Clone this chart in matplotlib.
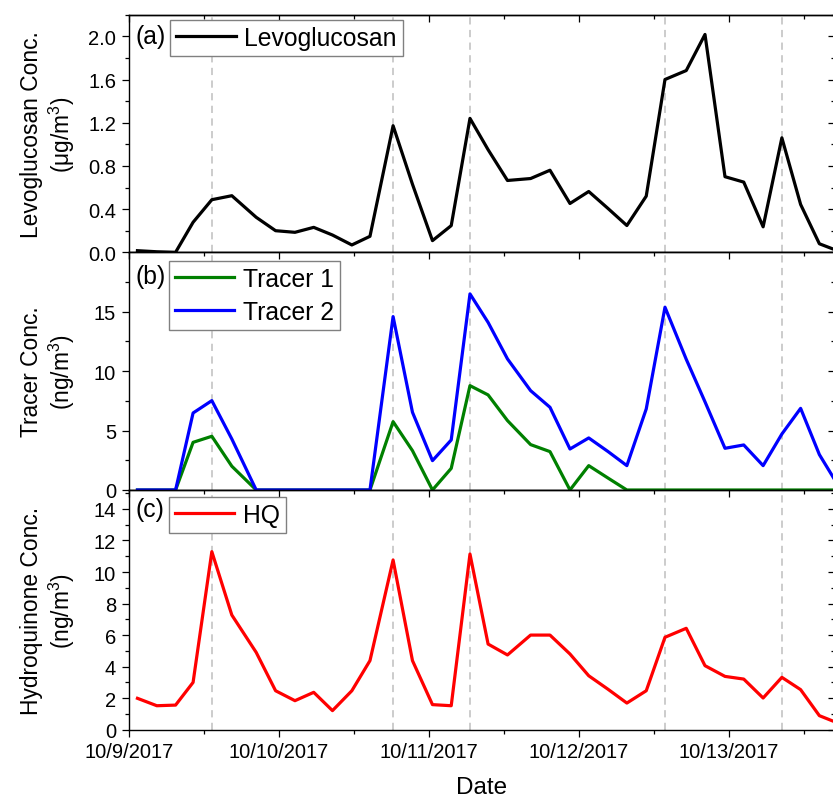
import numpy as np
import pandas as pd
import matplotlib
matplotlib.use("Agg")
import matplotlib.pyplot as plt
import matplotlib.dates as mdates
from matplotlib.ticker import MultipleLocator, FixedLocator, FormatStrFormatter, FuncFormatter

plt.rcParams['font.family'] = ['Liberation Sans', 'DejaVu Sans']
plt.rcParams['mathtext.default'] = 'regular'

# ---------------- data ----------------
start_date = "2017-10-09 00:00"
sample_hours = [1.4, 4.5, 7.5, 10.3, 13.3, 16.5, 20.4, 23.5, 26.6, 29.6, 32.6, 35.7,
                38.6, 42.3, 45.4, 48.6, 51.6, 54.6, 57.5, 60.6, 64.3, 67.4, 70.6, 73.6,
                76.7, 79.7, 82.8, 85.8, 89.2, 92.2, 95.4, 98.4, 101.5, 104.5, 107.5,
                110.5, 113.6]

levoglucosan = [0.015, 0.005, 0.0, 0.278, 0.487, 0.524, 0.324, 0.20, 0.185, 0.231, 0.160, 0.068,
                0.148, 1.172, 0.63, 0.108, 0.247, 1.24, 0.95, 0.665, 0.683, 0.76, 0.452, 0.563,
                0.405, 0.248, 0.52, 1.60, 1.683, 2.017, 0.70, 0.65, 0.236, 1.06, 0.443,
                0.079, 0.01]

tracer1 = [0, 0, 0, 4.01, 4.52, 2.0, 0, 0, 0, 0, 0, 0,
           0, 5.75, 3.31, 0, 1.82, 8.78, 8.0, 5.84, 3.82, 3.23, 0, 2.05,
           1.0, 0, 0, 0, 0, 0, 0, 0, 0, 0, 0,
           0, 0]

tracer2 = [0, 0, 0, 6.48, 7.52, 4.29, 0, 0, 0, 0, 0, 0,
           0, 14.59, 6.54, 2.47, 4.21, 16.5, 14.1, 11.03, 8.36, 6.96, 3.45, 4.38,
           3.23, 2.05, 6.82, 15.38, 11.0, 7.42, 3.51, 3.79, 2.05, 4.71, 6.87,
           2.98, 0.3]

hq = [1.99, 1.52, 1.56, 3.0, 11.29, 7.27, 4.9, 2.47, 1.84, 2.37, 1.21, 2.47,
      4.38, 10.76, 4.38, 1.59, 1.52, 11.14, 5.43, 4.74, 6.0, 6.0, 4.8, 3.42,
      2.56, 1.69, 2.47, 5.86, 6.43, 4.06, 3.38, 3.21, 2.01, 3.32, 2.54,
      0.89, 0.4]

event_hours = [13.3, 42.3, 54.6, 85.8, 104.5]

panel_tags = ["(a)", "(b)", "(c)"]
ylabels = ["Levoglucosan Conc.\n(μg/m$^{3}$)", "Tracer Conc.\n(ng/m$^{3}$)",
           "Hydroquinone Conc.\n(ng/m$^{3}$)"]
xlabel = "Date"
x_end_hours = 113.0

# ---------------- figure ----------------
t0 = pd.Timestamp(start_date)
times = [t0 + pd.Timedelta(hours=h) for h in sample_hours]
events = [t0 + pd.Timedelta(hours=h) for h in event_hours]
xmin = t0
xmax = t0 + pd.Timedelta(hours=x_end_hours)

W, H = 833, 803
fig = plt.figure(figsize=(W / 100, H / 100), dpi=100)

left_px, right_px = 128.7, 835.0
panels_px = [(15.7, 253.3), (253.3, 491.0), (491.0, 730.7)]
axes = []
for top, bot in panels_px:
    ax = fig.add_axes([left_px / W, 1 - bot / H, (right_px - left_px) / W, (bot - top) / H])
    axes.append(ax)

tick_fs = 14.5
label_fs = 16.4
leg_fs = 17.8
lw_data = 2.3

date_fmt = FuncFormatter(lambda v, pos: "{}/{}/{}".format(mdates.num2date(v).month,
                                                          mdates.num2date(v).day,
                                                          mdates.num2date(v).year))

for i, ax in enumerate(axes):
    ax.set_xlim(xmin, xmax)
    for e in events:
        ax.axvline(e, color='#c8c8c8', lw=1.3, ls=(0, (4.0, 3)), zorder=1)
    for sp in ax.spines.values():
        sp.set_linewidth(1.0)
    ax.xaxis.set_major_locator(mdates.DayLocator())
    ax.xaxis.set_minor_locator(mdates.HourLocator(byhour=12))
    ax.tick_params(axis='both', which='major', direction='out', length=5, width=0.9,
                   labelsize=tick_fs, pad=4)
    ax.tick_params(axis='both', which='minor', direction='out', length=3, width=0.9)
    if i < 2:
        ax.tick_params(axis='x', labelbottom=False)
    else:
        ax.xaxis.set_major_formatter(date_fmt)
    # mirrored inward ticks on top and right
    secx = ax.secondary_xaxis('top')
    secx.xaxis.set_major_locator(mdates.DayLocator())
    secx.xaxis.set_minor_locator(mdates.HourLocator(byhour=12))
    secx.tick_params(which='major', direction='in', length=5, width=0.9, labeltop=False)
    secx.tick_params(which='minor', direction='in', length=3, width=0.9, labeltop=False)
    secx.spines['top'].set_linewidth(1.0)
    sec_y = ax.secondary_yaxis('right')
    sec_y.tick_params(which='major', direction='in', length=5, width=0.9, labelright=False)
    sec_y.tick_params(which='minor', direction='in', length=3, width=0.9, labelright=False)
    sec_y.spines['right'].set_linewidth(1.0)
    ax._sec = (secx, sec_y)

# panel (a)
ax = axes[0]
ax.plot(times, levoglucosan, color='black', lw=lw_data, label='Levoglucosan', zorder=3)
ax.set_ylim(0, 2.2)
ax.yaxis.set_major_locator(FixedLocator([0.0, 0.4, 0.8, 1.2, 1.6, 2.0]))
ax.yaxis.set_minor_locator(MultipleLocator(0.2))
ax.yaxis.set_major_formatter(FormatStrFormatter('%.1f'))
ax._sec[1].yaxis.set_major_locator(FixedLocator([0.0, 0.4, 0.8, 1.2, 1.6, 2.0]))
ax._sec[1].yaxis.set_minor_locator(MultipleLocator(0.2))

# panel (b)
ax = axes[1]
ax.plot(times, tracer1, color='#008000', lw=lw_data, label='Tracer 1', zorder=3)
ax.plot(times, tracer2, color='#0000ff', lw=lw_data, label='Tracer 2', zorder=3)
ax.set_ylim(0, 20)
ax.yaxis.set_major_locator(FixedLocator([0, 5, 10, 15]))
ax.yaxis.set_minor_locator(FixedLocator([2.5, 7.5, 12.5, 17.5]))
ax._sec[1].yaxis.set_major_locator(FixedLocator([0, 5, 10, 15]))
ax._sec[1].yaxis.set_minor_locator(FixedLocator([2.5, 7.5, 12.5, 17.5]))

# panel (c)
ax = axes[2]
ax.plot(times, hq, color='#ff0000', lw=lw_data, label='HQ', zorder=3)
ax.set_ylim(0, 15.2)
ax.yaxis.set_major_locator(MultipleLocator(2))
ax.yaxis.set_minor_locator(MultipleLocator(1))
ax._sec[1].yaxis.set_major_locator(MultipleLocator(2))
ax._sec[1].yaxis.set_minor_locator(MultipleLocator(1))
ax.set_xlabel(xlabel, fontsize=17.5)
ax.xaxis.set_label_coords(0.5, -0.266)
ax.xaxis.label.set_va('baseline')

tag_pos = [0.91, 0.90, 0.921]
leg_anchor = [(0.0585, 0.979), (0.057, 0.9647), (0.057, 0.971)]
for i, ax in enumerate(axes):
    ax.set_ylabel(ylabels[i], fontsize=label_fs, linespacing=1.15)
    ax.yaxis.set_label_coords(-0.073, 0.5)
    ax.text(0.0103, tag_pos[i], panel_tags[i], transform=ax.transAxes, fontsize=leg_fs,
            ha='left', va='center')
    leg = ax.legend(loc='upper left', bbox_to_anchor=leg_anchor[i], borderaxespad=0,
                    fontsize=leg_fs, frameon=True, fancybox=False, borderpad=0.25,
                    handlelength=2.4, handletextpad=0.35, labelspacing=0.35)
    fr = leg.get_frame()
    fr.set_edgecolor('#808080')
    fr.set_linewidth(1.0)
    fr.set_alpha(1)

fig.savefig('out.png', dpi=100)
